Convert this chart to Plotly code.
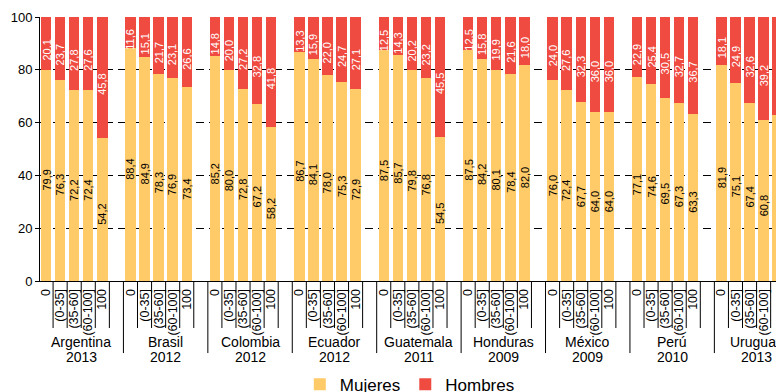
import plotly.graph_objects as go

countries = ["Argentina", "Brasil", "Colombia", "Ecuador", "Guatemala",
             "Honduras", "México", "Perú", "Uruguay"]
years = ["2013", "2012", "2012", "2012", "2011", "2009", "2009", "2010", "2013"]
income_groups = ["0", "(0-35]", "(35-60]", "(60-100]", "100"]

mujeres = [
    [79.9, 76.3, 72.2, 72.4, 54.2],
    [88.4, 84.9, 78.3, 76.9, 73.4],
    [85.2, 80.0, 72.8, 67.2, 58.2],
    [86.7, 84.1, 78.0, 75.3, 72.9],
    [87.5, 85.7, 79.8, 76.8, 54.5],
    [87.5, 84.2, 80.1, 78.4, 82.0],
    [76.0, 72.4, 67.7, 64.0, 64.0],
    [77.1, 74.6, 69.5, 67.3, 63.3],
    [81.9, 75.1, 67.4, 60.8, 62.8],
]
hombres = [
    [20.1, 23.7, 27.8, 27.6, 45.8],
    [11.6, 15.1, 21.7, 23.1, 26.6],
    [14.8, 20.0, 27.2, 32.8, 41.8],
    [13.3, 15.9, 22.0, 24.7, 27.1],
    [12.5, 14.3, 20.2, 23.2, 45.5],
    [12.5, 15.8, 19.9, 21.6, 18.0],
    [24.0, 27.6, 32.3, 36.0, 36.0],
    [22.9, 25.4, 30.5, 32.7, 36.7],
    [18.1, 24.9, 32.6, 39.2, 37.2],
]

FONT = "Liberation Sans, Arial, sans-serif"
C_M = "#FFCB69"
C_H = "#EF4B41"
SLOT = len(income_groups) + 1  # one empty slot between groups

xs, ym, yh, ticktext = [], [], [], []
for g, c in enumerate(countries):
    for i, lab in enumerate(income_groups):
        xs.append(g * SLOT + i)
        ym.append(mujeres[g][i])
        yh.append(hombres[g][i])
        ticktext.append(lab)

def fmt(v):
    return f"{v:.1f}".replace(".", ",")

fig = go.Figure()
fig.add_trace(go.Bar(x=xs, y=ym, name="Mujeres", marker=dict(color=C_M, line=dict(width=0)),
                     width=0.74, hoverinfo="skip"))
fig.add_trace(go.Bar(x=xs, y=yh, name="Hombres", marker=dict(color=C_H, line=dict(width=0)),
                     width=0.74, hoverinfo="skip"))

annotations = []
for x, m, h in zip(xs, ym, yh):
    annotations.append(dict(x=x, y=m / 2, xref="x", yref="y", text=fmt(m), showarrow=False,
                            textangle=-90, yshift=-5,
                            font=dict(family=FONT, size=11, color="#000")))
    annotations.append(dict(x=x, y=m + h / 2, xref="x", yref="y", text=fmt(h), showarrow=False,
                            textangle=-90, yshift=-7,
                            font=dict(family=FONT, size=11, color="#fff")))

shapes = []
for g, c in enumerate(countries):
    base = g * SLOT
    shapes.append(dict(type="line", xref="x", yref="paper", x0=base - 0.5, x1=base - 0.5,
                       y0=0, y1=-0.273, line=dict(color="#000", width=1)))
    for i in range(len(income_groups)):
        shapes.append(dict(type="line", xref="x", yref="paper", x0=base + i + 0.5,
                           x1=base + i + 0.5, y0=0, y1=-0.178, line=dict(color="#000", width=1)))
    annotations.append(dict(x=base + 2.5, y=-0.198, xref="x", yref="paper", text=c,
                            showarrow=False, yanchor="top", borderpad=0,
                            font=dict(family=FONT, size=14, color="#000")))
    annotations.append(dict(x=base + 2.5, y=-0.254, xref="x", yref="paper", text=years[g],
                            showarrow=False, yanchor="top", borderpad=0,
                            font=dict(family=FONT, size=14, color="#000")))

fig.update_layout(
    barmode="stack",
    width=776, height=392,
    margin=dict(l=40, r=0, t=17, b=111, autoexpand=False),
    plot_bgcolor="#fff", paper_bgcolor="#fff",
    font=dict(family=FONT, color="#000"),
    showlegend=True,
    legend=dict(orientation="h", x=0.353, xanchor="left", y=-0.325, yanchor="top",
                font=dict(family=FONT, size=17, color="#000"), traceorder="normal",
                itemclick=False),
    annotations=annotations,
    shapes=shapes,
    xaxis=dict(range=[-0.43, 51.88], tickmode="array", tickvals=xs, ticktext=ticktext,
               tickangle=-90, ticks="", showgrid=False, zeroline=False, automargin=False,
               showline=True, linecolor="#000", linewidth=1,
               tickfont=dict(family=FONT, size=12.5, color="#000"), ticklabelstandoff=2),
    yaxis=dict(range=[0, 100], tickvals=[0, 20, 40, 60, 80, 100], showgrid=True,
               automargin=False,
               gridcolor="#000", gridwidth=1, griddash="8px,5px", zeroline=False,
               showline=True, linecolor="#000", linewidth=1, ticks="outside", ticklen=4,
               tickcolor="#000", tickfont=dict(family=FONT, size=13, color="#000")),
)

fig.write_html("out.html", config={"displayModeBar": False},
               post_script="document.body.style.margin='0';document.body.style.overflow='hidden';")
